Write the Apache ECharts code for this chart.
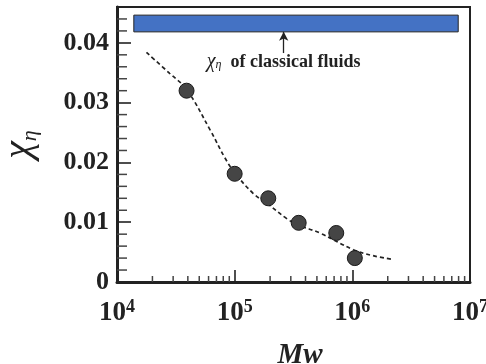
<!DOCTYPE html>
<html>
<head>
<meta charset="utf-8">
<script src="https://cdn.jsdelivr.net/npm/echarts@6/dist/echarts.min.js"></script>
<style>
  html, body { margin: 0; padding: 0; background: #fff; }
  #chart { width: 486px; height: 364px; }
</style>
</head>
<body>
<div id="chart"></div>
<script>
// Measured samples: molecular weight vs. chi_eta
const mwValues = [3.9e4, 1.0e5, 1.93e5, 3.5e5, 7.3e5, 1.05e6];
const chiValues = [0.032, 0.0181, 0.0140, 0.0099, 0.0082, 0.0040];

// Fitted trend (dashed)
const fitMw = [1.78e4, 2.8e4, 3.9e4, 6.2e4, 8.3e4, 1.0e5, 1.44e5, 1.93e5, 2.77e5, 3.5e5, 5.3e5, 1.02e6, 1.5e6, 2.25e6];
const fitChi = [0.0384, 0.0349, 0.0322, 0.0254, 0.0207, 0.0183, 0.0148, 0.0130, 0.0106, 0.0095, 0.0082, 0.0054, 0.0044, 0.00375];

// Band of chi_eta for classical fluids
const bandMw = [1.39e4, 7.94e6];
const bandChi = [0.04184, 0.04464];
const arrowMw = 2.61e5;
const arrowChi = [0.0383, 0.04184];

// Axis ranges and ticks
const xRange = [1e4, 1e7];
const yRange = [0, 0.046];
const yMajorStep = 0.01;
const xMinorTicks = [2e4, 3e4, 4e4, 5e4, 6e4, 7e4, 8e4, 9e4,
                     2e5, 3e5, 4e5, 5e5, 6e5, 7e5, 8e5, 9e5,
                     2e6, 3e6, 4e6, 5e6, 6e6, 7e6, 8e6, 9e6];
const yMinorTicks = [0.002, 0.004, 0.006, 0.008, 0.012, 0.014, 0.016, 0.018,
                     0.022, 0.024, 0.026, 0.028, 0.032, 0.034, 0.036, 0.038,
                     0.042, 0.044];

const INK = '#222';
const SERIF = '"Liberation Serif", "Times New Roman", serif';

const chart = echarts.init(document.getElementById('chart'), null, { renderer: 'canvas' });

// short tick drawn inward from an axis at a data position
function tickRenderer(horizontal, len) {
  return (params, api) => {
    const p = api.coord([api.value(0), api.value(1)]);
    const shape = horizontal
      ? { x1: p[0], y1: p[1], x2: p[0] + len, y2: p[1] }
      : { x1: p[0], y1: p[1], x2: p[0], y2: p[1] - len };
    return { type: 'line', shape, style: { stroke: '#444', lineWidth: 1.5 } };
  };
}

chart.setOption({
  animation: false,
  backgroundColor: '#fff',
  grid: {
    left: 117, right: 16, top: 7, bottom: 82,
    outerBoundsMode: 'none', containLabel: false,
    show: true, borderColor: INK, borderWidth: 2, backgroundColor: 'transparent'
  },
  xAxis: {
    type: 'log', logBase: 10, min: xRange[0], max: xRange[1],
    name: 'Mw', nameLocation: 'middle', nameGap: 59,
    nameTextStyle: {
      fontFamily: SERIF, fontWeight: 'bold', fontStyle: 'italic',
      fontSize: 29, color: INK, padding: [0, 0, 0, 13]
    },
    axisLine: { lineStyle: { color: INK, width: 3 } },
    axisTick: { inside: true, length: 12, lineStyle: { color: INK, width: 1.6 } },
    splitLine: { show: false },
    minorTick: { show: false },
    axisLabel: {
      margin: 16,
      formatter: v => '{b|10}{s|' + Math.round(Math.log10(v)) + '}',
      rich: {
        b: { fontFamily: SERIF, fontWeight: 'bold', fontSize: 27, color: INK, lineHeight: 30 },
        s: { fontFamily: SERIF, fontWeight: 'bold', fontSize: 18, color: INK, lineHeight: 18, verticalAlign: 'top' }
      }
    }
  },
  yAxis: {
    type: 'value', min: yRange[0], max: yRange[1], interval: yMajorStep,
    name: '{c|χ}{e|η}', nameLocation: 'middle', nameRotate: 90, nameGap: 76,
    nameTextStyle: {
      rich: {
        c: { fontFamily: SERIF, fontStyle: 'italic', fontSize: 40, color: INK, lineHeight: 44 },
        e: { fontFamily: SERIF, fontStyle: 'italic', fontSize: 22, color: INK, lineHeight: 22, verticalAlign: 'bottom' }
      }
    },
    axisLine: { show: true, lineStyle: { color: INK, width: 3 } },
    axisTick: { inside: true, length: 14, lineStyle: { color: INK, width: 1.6 } },
    splitLine: { show: false },
    axisLabel: {
      margin: 8, showMaxLabel: false,
      fontFamily: SERIF, fontWeight: 'bold', fontSize: 26, color: INK,
      formatter: v => (v === 0 ? '0' : v.toFixed(2))
    }
  },
  series: [
    {
      // minor ticks of the log axis
      type: 'custom', silent: true, z: 1,
      data: xMinorTicks.map(v => [v, yRange[0]]),
      renderItem: tickRenderer(false, 6)
    },
    {
      // minor ticks of the value axis
      type: 'custom', silent: true, z: 1,
      data: yMinorTicks.map(v => [xRange[0], v]),
      renderItem: tickRenderer(true, 10)
    },
    {
      type: 'line', smooth: 0.4, symbol: 'none', z: 2,
      data: fitMw.map((m, i) => [m, fitChi[i]]),
      lineStyle: { color: INK, width: 1.7, type: [4, 3] },
      markArea: {
        silent: true,
        itemStyle: { color: '#4472C4', borderColor: INK, borderWidth: 1 },
        data: [[{ coord: [bandMw[0], bandChi[0]] }, { coord: [bandMw[1], bandChi[1]] }]]
      },
      markLine: {
        silent: true, symbol: ['none', 'arrow'], symbolSize: [7, 9],
        lineStyle: { color: INK, width: 1.3, type: 'solid' },
        label: {
          show: true, position: 'start', distance: 0,
          formatter: '{c|χ}{e|η}{t|  of classical fluids}',
          rich: {
            c: { fontFamily: SERIF, fontStyle: 'italic', fontSize: 20, color: INK, lineHeight: 18 },
            e: { fontFamily: SERIF, fontStyle: 'italic', fontSize: 12, color: INK, lineHeight: 12, verticalAlign: 'bottom' },
            t: { fontFamily: SERIF, fontWeight: 'bold', fontSize: 18, color: INK, lineHeight: 18 }
          }
        },
        data: [[{ coord: [arrowMw, arrowChi[0]] }, { coord: [arrowMw, arrowChi[1]] }]]
      }
    },
    {
      type: 'scatter', symbol: 'circle', symbolSize: 15, z: 3,
      data: mwValues.map((m, i) => [m, chiValues[i]]),
      itemStyle: { color: '#454545', borderColor: '#1a1a1a', borderWidth: 1, opacity: 1 }
    }
  ]
});
</script>
</body>
</html>
